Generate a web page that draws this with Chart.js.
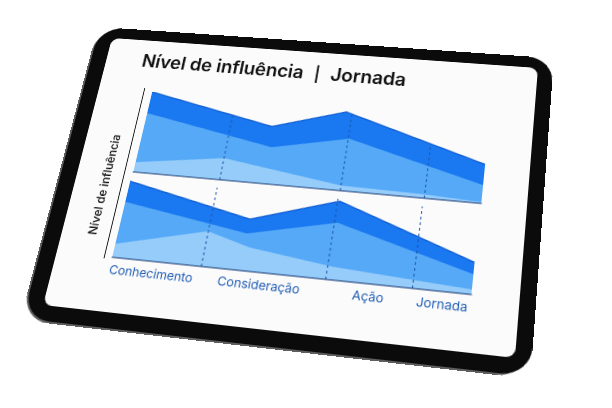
<!DOCTYPE html>
<html lang="pt-BR">
<head>
<meta charset="utf-8">
<script src="https://cdn.jsdelivr.net/npm/chart.js@4.4.1/dist/chart.umd.min.js"></script>
<style>
  html, body { margin: 0; padding: 0; width: 612px; height: 408px; overflow: hidden; background: #fff; }
  #tablet { position: absolute; left: 0; top: 0; width: 480px; height: 310px; transform-origin: 0 0; }
  .side { position: absolute; left: -20px; top: -12px; width: 513px; height: 340px; border-radius: 30px; background: #5e5e5e; }
  .bezel { position: absolute; left: -18px; top: -13px; width: 514px; height: 339px; border-radius: 28px; background: #0b0b0b; }
  .screen { position: absolute; left: 0; top: 0; width: 480px; height: 310px; border-radius: 9px; background: #fbfbfb; }
  .title { position: absolute; left: 42px; top: 15px; font: 600 21px/21px Inter, sans-serif; color: #111; white-space: nowrap; letter-spacing: -0.1px; }
  .title .sep { font-size: 18px; margin: 0 12px; }
  .ytitle { position: absolute; left: -67px; top: 166px; width: 200px; height: 16px; line-height: 16px; text-align: center;
            font: 500 13px Inter, sans-serif; color: #111; transform: rotate(-90deg); white-space: nowrap; }
  .yaxis { position: absolute; left: 52px; top: 59px; width: 1.2px; height: 196px; background: #111; }
  canvas { position: absolute; }
  #upper { left: 32px; top: 59px; }
  #lower { left: 31px; top: 163px; }
</style>
</head>
<body>
<div id="tablet">
  <div class="side"></div>
  <div class="bezel"></div>
  <div class="screen">
    <div class="title"><span>Nível de influência</span><span class="sep">|</span><span>Jornada</span></div>
    <div class="ytitle">Nível de influência</div>
    <div class="yaxis"></div>
    <canvas id="upper" width="432" height="103"></canvas>
    <canvas id="lower" width="432" height="124"></canvas>
  </div>
</div>
<script>
// stages along the journey (x runs 0..1 across each chart)
const stageLabels = ['Conhecimento', 'Consideração', 'Ação', 'Jornada'];
const stageLabelPos = [0.12, 0.426, 0.727, 0.925];
const stageDividers = [0.258, 0.607, 0.843];

// upper chart
const upperTopX = [0, 0.38, 0.59, 1];
const upperTopY = [100, 69, 94, 45];
const upperMidX = [0, 0.39, 0.61, 1];
const upperMidY = [73, 44, 62, 21];
const upperLowX = [0, 0.258, 0.607, 0.843, 1];
const upperLowY = [12, 26, 6, 4.5, 1.5];
const upperDividerTop = [79, 92, 64];

// lower chart
const lowerTopX = [0, 0.369, 0.613, 1];
const lowerTopY = [98, 64, 97, 38];
const lowerMidX = [0, 0.368, 0.616, 1];
const lowerMidY = [71, 46, 70, 24];
const lowerLowX = [0, 0.257, 0.383, 0.62, 0.844, 1];
const lowerLowY = [17, 44, 29, 16, 10, 6];
const lowerDividerTop = [100, 100, 100];

const DARK = '#1a78f0';
const MID = '#55a9f7';
const LIGHT = '#95ccfa';

// screen corners in the photo: TL, TR, BR, BL
const screenQuad = [[112, 38], [538, 68], [515, 358], [43, 305]];

function perspective(W, H, q) {
    const [x0, y0] = q[0], [x1, y1] = q[1], [x2, y2] = q[2], [x3, y3] = q[3];
    const dx1 = x1 - x2, dx2 = x3 - x2, dx3 = x0 - x1 + x2 - x3;
    const dy1 = y1 - y2, dy2 = y3 - y2, dy3 = y0 - y1 + y2 - y3;
    const den = dx1 * dy2 - dx2 * dy1;
    const g = (dx3 * dy2 - dx2 * dy3) / den;
    const h = (dx1 * dy3 - dx3 * dy1) / den;
    const a = x1 - x0 + g * x1, b = x3 - x0 + h * x3;
    const d = y1 - y0 + g * y1, e = y3 - y0 + h * y3;
    return `matrix3d(${a / W},${d / W},0,${g / W},${b / H},${e / H},0,${h / H},0,0,1,0,${x0},${y0},0,1)`;
}
document.getElementById('tablet').style.transform = perspective(480, 310, screenQuad);

function pts(xs, ys) {
    return xs.map((x, i) => ({ x: x, y: ys[i] }));
}

function layer(xs, ys, color, order, edge) {
    return {
        data: pts(xs, ys),
        backgroundColor: color,
        borderColor: edge || color,
        borderWidth: edge ? 1.5 : 0,
        fill: 'origin',
        pointRadius: 0,
        tension: 0,
        order: order
    };
}

function makeChart(id, top, mid, low, dividerTops, showLabels) {
    const dividers = stageDividers.map((d, i) => ({
        data: [{ x: d, y: 0 }, { x: d, y: dividerTops[i] }],
        borderColor: '#1d56a8',
        borderWidth: 1,
        borderDash: [3, 3],
        pointRadius: 0,
        fill: false,
        order: 0
    }));

    return new Chart(document.getElementById(id), {
        type: 'line',
        data: {
            datasets: [
                layer(low[0], low[1], LIGHT, 1),
                layer(mid[0], mid[1], MID, 2),
                layer(top[0], top[1], DARK, 3, '#1462d6'),
                ...dividers
            ]
        },
        options: {
            responsive: false,
            maintainAspectRatio: false,
            animation: false,
            devicePixelRatio: 2,
            events: [],
            layout: { padding: { left: 30, right: 30, top: 4, bottom: showLabels ? 10 : 4 } },
            plugins: { legend: { display: false }, tooltip: { enabled: false } },
            scales: {
                x: {
                    type: 'linear',
                    min: 0,
                    max: 1,
                    grid: { display: false, drawTicks: false },
                    border: { display: true, color: '#10306a', width: 1, z: 1 },
                    afterBuildTicks: (s) => { s.ticks = stageLabelPos.map(v => ({ value: v })); },
                    afterFit: (s) => { s.height = showLabels ? 24 : 0; },
                    ticks: {
                        display: showLabels,
                        autoSkip: false,
                        maxRotation: 0,
                        padding: 6,
                        color: '#1f5cb3',
                        font: { family: 'Inter', size: 13 },
                        callback: (v, i) => stageLabels[i]
                    }
                },
                y: { display: false, min: 0, max: 100 }
            }
        }
    });
}

makeChart('upper',
    [upperTopX, upperTopY], [upperMidX, upperMidY], [upperLowX, upperLowY],
    upperDividerTop, false);
makeChart('lower',
    [lowerTopX, lowerTopY], [lowerMidX, lowerMidY], [lowerLowX, lowerLowY],
    lowerDividerTop, true);
</script>
</body>
</html>
